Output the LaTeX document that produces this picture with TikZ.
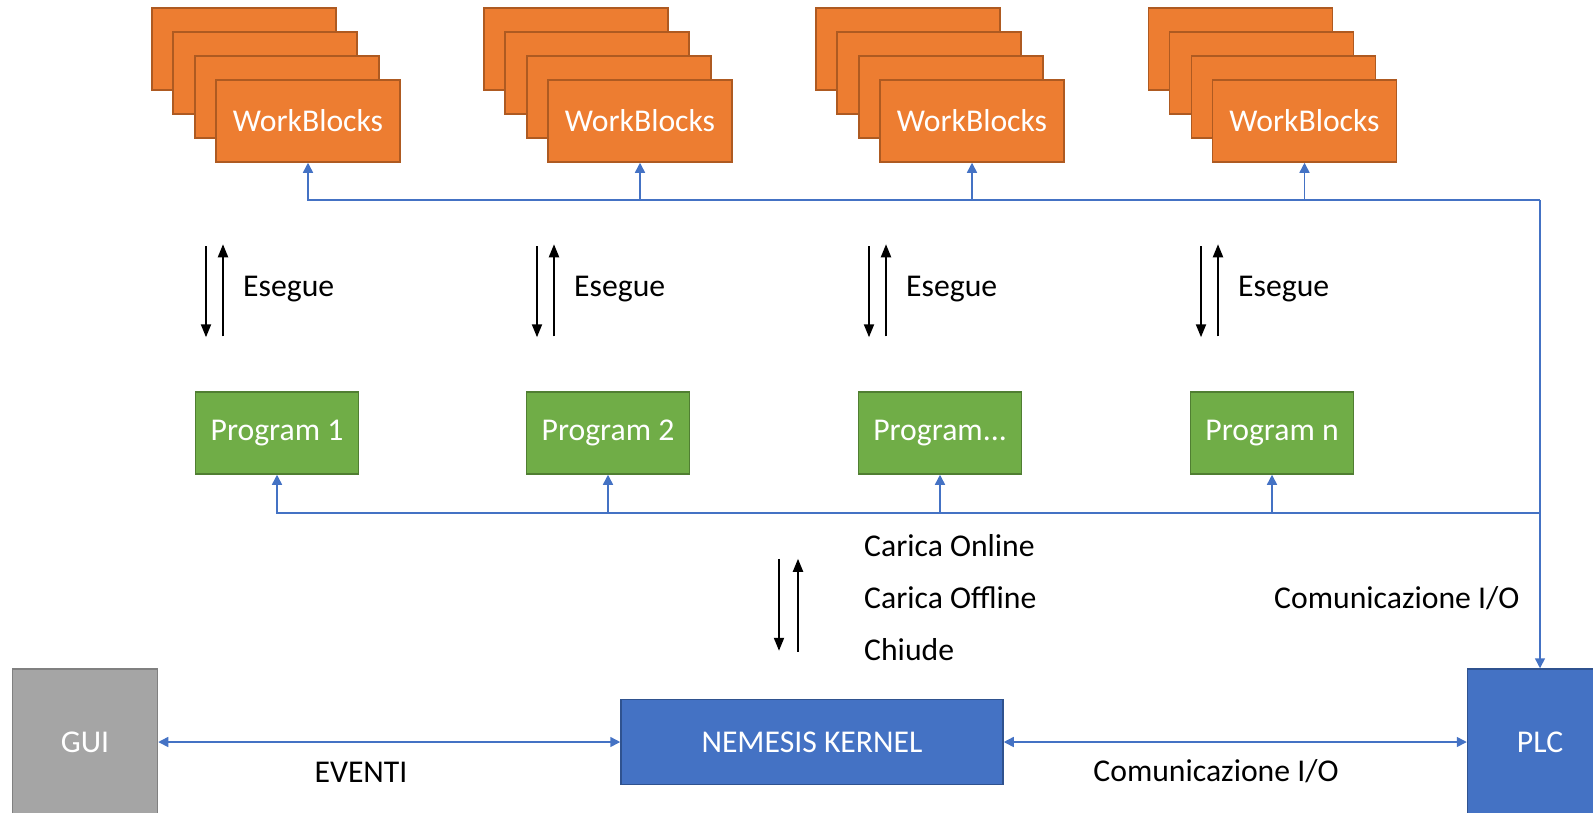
\documentclass[tikz,border=0pt]{standalone}
\usepackage{fontspec}
\setmainfont{Carlito}
\usetikzlibrary{arrows.meta}
\definecolor{wborange}{HTML}{ED7D31}
\definecolor{wbedge}{HTML}{AE5A21}
\definecolor{proggreen}{HTML}{70AD47}
\definecolor{progedge}{HTML}{507E32}
\definecolor{kblue}{HTML}{4472C4}
\definecolor{kedge}{HTML}{2F528F}
\definecolor{guigray}{HTML}{A5A5A5}
\definecolor{guiedge}{HTML}{808080}
\newcommand{\bigfont}{\fontsize{31.7}{38}\selectfont}
\tikzstyle{wb} = [rectangle, draw=wbedge, fill=wborange, line width=1.5pt, text=white, minimum width=184pt, minimum height=82pt, font=\bigfont]
\tikzstyle{prog} = [rectangle, draw=progedge, fill=proggreen, line width=1.5pt, text=white, minimum width=163pt, minimum height=82pt, font=\bigfont]
\tikzstyle{kern} = [rectangle, draw=kedge, fill=kblue, line width=1.5pt, text=white, minimum width=382pt, minimum height=85pt, font=\bigfont]
\tikzstyle{side} = [rectangle, line width=1.5pt, text=white, minimum width=145pt, minimum height=146pt, font=\bigfont]
\tikzstyle{lbl} = [font=\bigfont, inner sep=0pt]
\tikzset{bus/.style = {
    draw=kblue, line width=1.5pt,
    -{Triangle[length=10pt,width=10pt]}
  },
  exec/.style = {
    line width=2pt,
    -{Triangle[length=13pt,width=10pt]}
  }
}
\newcommand{\wbstack}[2]{% name, x of the front block
  \node[wb] (#1c) at (#2-64, 49) {};
  \node[wb] (#1b) at (#2-43, 73) {};
  \node[wb] (#1a) at (#2-21, 97) {};
  \node[wb] (#1) at (#2, 121) {WorkBlocks};
}
\newcommand{\esegue}[1]{%
  \draw[exec] ([xshift=-71pt,yshift=145pt]#1.north) -- ++(0,91);
  \draw[exec] ([xshift=-54pt,yshift=55pt]#1.north) -- ++(0,-92);
  \node[lbl, anchor=west] (#1e) at ([xshift=-34pt,yshift=102pt]#1.north) {Esegue};
}

\begin{document}
\begin{tikzpicture}[x=1pt, y=-1pt]
            \useasboundingbox (0,0) rectangle (1593,812);
            \clip (0,0) rectangle (1593,812);

            % vertices
            \wbstack{wb1}{308}
            \wbstack{wb2}{640}
            \wbstack{wb3}{972}
            \wbstack{wb4}{1304.5}

            \node[prog] (p1) at (277, 433) {Program 1};
            \node[prog] (p2) at (608, 433) {Program 2};
            \node[prog] (p3) at (940, 433) {Program...};
            \node[prog] (pn) at (1272, 433) {Program n};

            \node[side, draw=guiedge, fill=guigray] (gui) at (85, 742) {GUI};
            \node[kern] (k) at (812, 742) {NEMESIS KERNEL};
            \node[side, draw=kedge, fill=kblue] (plc) at (1540, 742) {PLC};

            \coordinate (tb) at (1540, 200);
            \coordinate (mb) at (1540, 513);

            %edges
            \draw[bus] (tb) -- (plc.north);
            \draw[bus] (tb) -| (wb1.south);
            \draw[bus] (tb) -| (wb2.south);
            \draw[bus] (tb) -| (wb3.south);
            \draw[bus] (tb) -| (wb4.south);
            \draw[bus] (mb) -| (p1.south);
            \draw[bus] (mb) -| (p2.south);
            \draw[bus] (mb) -| (p3.south);
            \draw[bus] (mb) -| (pn.south);

            \draw[bus, {Triangle[length=10pt,width=10pt]}-{Triangle[length=10pt,width=10pt]}] (gui) -- (k);
            \draw[bus, {Triangle[length=10pt,width=10pt]}-{Triangle[length=10pt,width=10pt]}] (k) -- (plc);

            %labels
            \esegue{p1}
            \esegue{p2}
            \esegue{p3}
            \esegue{pn}

            \draw[exec] ([xshift=-33pt,yshift=140pt]k.north) -- ++(0,92);
            \draw[exec] ([xshift=-14pt,yshift=47pt]k.north) -- ++(0,-93);
            \node[lbl, anchor=west, align=left, font=\fontsize{31.7}{52}\selectfont] (cmd) at (864, 598) {Carica Online\\Carica Offline\\Chiude};
            \node[lbl, anchor=west] (io1) at (1274, 598) {Comunicazione I/O};
            \node[lbl] (ev) at (361, 772) {EVENTI};
            \node[lbl] (io2) at (1216, 771) {Comunicazione I/O};

          \end{tikzpicture}
\end{document}
